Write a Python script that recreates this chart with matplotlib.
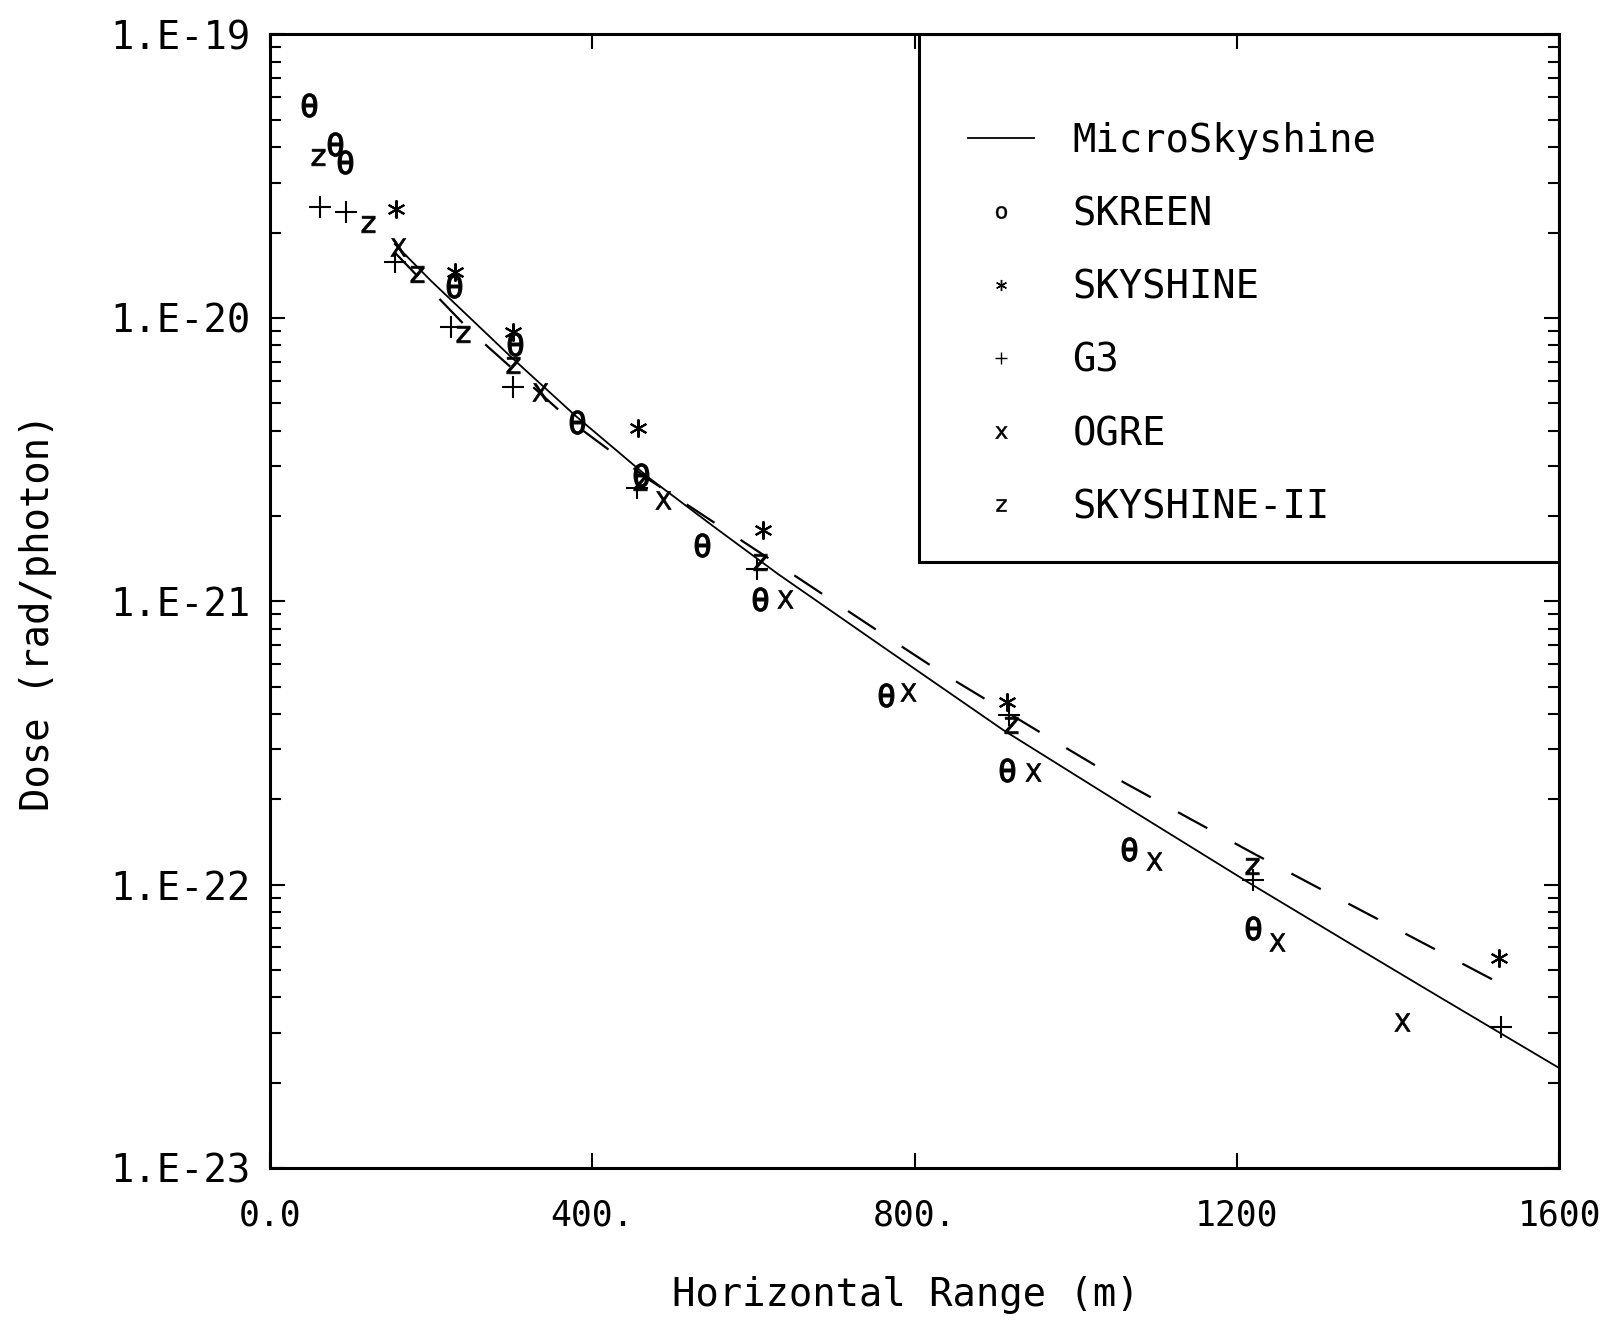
import matplotlib.pyplot as plt
from matplotlib.lines import Line2D
from matplotlib.patches import Rectangle

plt.rcParams['font.family'] = 'DejaVu Sans Mono'
plt.rcParams['mathtext.fontset'] = 'dejavusans'
plt.rcParams['mathtext.default'] = 'regular'

# MicroSkyshine curve (solid)
micro_x = [155, 200, 250, 300, 380, 470, 550, 630, 760, 910, 1060, 1216, 1350, 1450, 1600]
micro_dose = [1.82e-20, 1.35e-20, 9.89e-21, 7.24e-21, 4.49e-21, 2.73e-21, 1.84e-21, 1.25e-21,
              6.92e-22, 3.51e-22, 1.90e-22, 1.01e-22, 5.96e-23, 4.03e-23, 2.25e-23]

# second calculation (dashed, not in key)
dash_x = [155, 250, 380, 470, 630, 760, 835, 980, 1060, 1130, 1220, 1300, 1400, 1523]
dash_dose = [1.70e-20, 8.91e-21, 4.17e-21, 2.69e-21, 1.35e-21, 7.67e-22, 5.56e-22, 3.13e-22,
             2.29e-22, 1.78e-22, 1.29e-22, 9.77e-23, 6.92e-23, 4.53e-23]

# code results
skreen_x = [48, 81, 93, 228, 304, 381, 461, 536, 608, 765, 914, 1066, 1220]
skreen_dose = [5.62e-20, 4.11e-20, 3.55e-20, 1.29e-20, 8.1e-21, 4.3e-21, 2.78e-21, 1.58e-21,
               1.02e-21, 4.65e-22, 2.54e-22, 1.34e-22, 7.0e-23]

skyshine_x = [157, 230, 302, 457, 612, 915, 1525]
skyshine_dose = [2.43e-20, 1.45e-20, 8.9e-21, 4.07e-21, 1.78e-21, 4.42e-22, 5.5e-23]

g3_x = [62, 95, 155, 225, 302, 455, 604, 917, 1220, 1527]
g3_dose = [2.46e-20, 2.36e-20, 1.57e-20, 9.3e-21, 5.68e-21, 2.50e-21, 1.30e-21, 3.96e-22,
           1.04e-22, 3.15e-23]

ogre_x = [159, 335, 488, 639, 792, 947, 1097, 1250, 1405]
ogre_dose = [1.78e-20, 5.47e-21, 2.27e-21, 1.02e-21, 4.78e-22, 2.5e-22, 1.21e-22, 6.28e-23, 3.28e-23]

sky2_x = [60, 122, 182, 240, 302, 459, 608, 919, 1218]
sky2_dose = [3.69e-20, 2.15e-20, 1.43e-20, 8.8e-21, 6.8e-21, 2.64e-21, 1.38e-21, 3.65e-22, 1.16e-22]

x_ticks = [0, 400, 800, 1200, 1600]
x_labels = ['0.0', '400.', '800.', '1200', '1600']
y_ticks = [1e-23, 1e-22, 1e-21, 1e-20, 1e-19]
y_labels = ['1.E-23', '1.E-22', '1.E-21', '1.E-20', '1.E-19']

fig = plt.figure(figsize=(16.16, 13.25), dpi=100)
ax = fig.add_axes([0.167, 0.1185, 0.798, 0.8555])

ax.plot(micro_x, micro_dose, color='k', lw=1.3, zorder=2)
ax.plot(dash_x, dash_dose, color='k', lw=1.6, ls=(0, (15, 14)), zorder=2)

mk = dict(ls='none', color='k', zorder=3)
ax.plot(skreen_x, skreen_dose, marker=r'$\theta$', ms=17, mew=0.8, **mk)
ax.plot(skyshine_x, skyshine_dose, marker=(6, 2, 0), ms=13, mew=1.5, **mk)
ax.plot(g3_x, g3_dose, marker='+', ms=16, mew=1.5, **mk)
ax.plot(ogre_x, ogre_dose, marker=r'$\mathsf{X}$', ms=13, mew=0.5, **mk)
ax.plot(sky2_x, sky2_dose, marker=r'$\mathsf{z}$', ms=12, mew=0.5, **mk)

ax.set_yscale('log')
ax.set_xlim(0, 1600)
ax.set_ylim(1e-23, 1e-19)
ax.set_xticks(x_ticks, x_labels, fontsize=25)
ax.set_yticks(y_ticks, y_labels, fontsize=28)
ax.tick_params(which='both', direction='in', top=True, right=True, width=1.5)
ax.tick_params(which='major', length=11)
ax.tick_params(which='minor', length=8)
ax.tick_params(axis='x', pad=22)
ax.tick_params(axis='y', pad=14)
for s in ax.spines.values():
    s.set_linewidth(2.2)

ax.set_xlabel('Horizontal Range (m)', fontsize=28)
ax.set_ylabel('Dose (rad/photon)', fontsize=28)
ax.xaxis.set_label_coords(0.493, -0.095)
ax.yaxis.set_label_coords(-0.165, 0.49)

# key box in the upper right corner
ax.add_patch(Rectangle((0.503, 0.535), 0.497, 0.465, transform=ax.transAxes,
                       fill=False, lw=2.2, color='k', zorder=4))
handles = [
    Line2D([], [], color='k', lw=1.3),
    Line2D([], [], ls='none', color='k', marker=r'$\mathsf{o}$', ms=9, mew=0.3),
    Line2D([], [], ls='none', color='k', marker=(6, 2, 0), ms=8, mew=1),
    Line2D([], [], ls='none', color='k', marker='+', ms=9, mew=1),
    Line2D([], [], ls='none', color='k', marker=r'$\mathsf{x}$', ms=9, mew=0.3),
    Line2D([], [], ls='none', color='k', marker=r'$\mathsf{z}$', ms=9, mew=0.3),
]
names = ['MicroSkyshine', 'SKREEN', 'SKYSHINE', 'G3', 'OGRE', 'SKYSHINE-II']
ax.legend(handles, names, loc='upper left', bbox_to_anchor=(0.541, 0.923), frameon=False,
          fontsize=28, borderpad=0, borderaxespad=0, handlelength=1.7,
          handletextpad=1.0, labelspacing=0.91)

fig.savefig('out.png')
